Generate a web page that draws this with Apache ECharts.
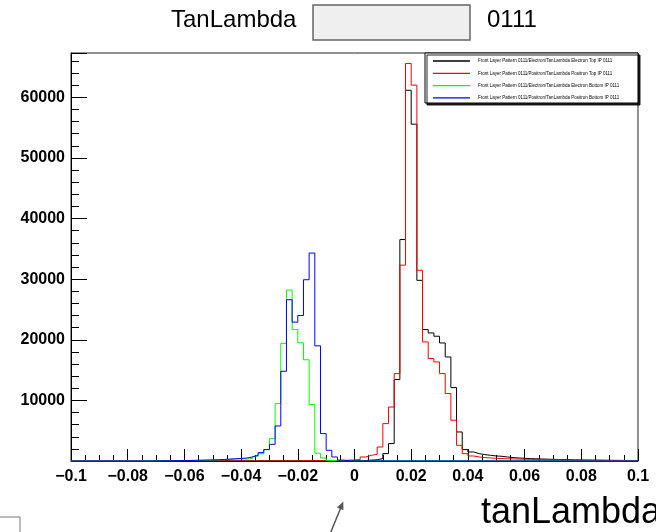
<!DOCTYPE html>
<html>
<head>
<meta charset="utf-8">
<script src="https://cdn.jsdelivr.net/npm/echarts@6/dist/echarts.min.js"></script>
<style>
html,body{margin:0;padding:0;background:#fff;}
#chart{width:656px;height:532px;}
</style>
</head>
<body>
<div id="chart"></div>
<script>
// ---- binning (100 bins from -0.1 to 0.1) ----
const binMin = -0.1;
const binWidth = 0.002;

// ---- series names ----
const seriesNames = [
  'Front Layer Pattern 0111/Electron/TanLambda Electron Top IP 0111',
  'Front Layer Pattern 0111/Positron/TanLambda Positron Top IP 0111',
  'Front Layer Pattern 0111/Electron/TanLambda Electron Bottom IP 0111',
  'Front Layer Pattern 0111/Positron/TanLambda Positron Bottom IP 0111'
];
const seriesColors = ['#000000', '#ff0000', '#00ff00', '#0000ff'];

// ---- bin contents ----
const electronTop = [
  0,0,0,0,0,0,0,0,0,0,
  0,0,0,0,0,0,0,0,0,0,
  0,0,0,0,0,0,0,0,0,0,
  0,0,0,0,0,0,0,0,0,0,
  0,0,0,0,0,0,0,0,30,40,
  50,80,150,200,400,1220,2870,13430,36530,61150,
  55560,29800,21680,21120,20580,19470,17160,12110,4790,1880,
  1490,1220,1050,940,830,775,660,560,500,445,
  400,360,330,300,270,250,230,210,190,170,
  160,150,140,130,120,110,100,95,90,85
];
const positronTop = [
  0,0,0,0,0,0,0,0,0,0,
  0,0,0,0,0,0,0,0,0,0,
  0,0,0,0,0,0,0,0,0,0,
  0,0,0,0,0,0,0,0,0,0,
  10,15,20,25,30,40,60,90,130,180,
  230,660,940,1100,2310,6170,8900,14420,32300,65570,
  62000,31460,19640,16900,16340,14420,11120,6720,2590,1220,
  830,660,560,500,445,400,370,345,320,290,
  280,260,240,220,200,185,170,155,140,130,
  120,110,100,95,90,85,80,75,70,65
];
const electronBottom = [
  0,0,0,0,0,0,0,0,0,0,
  0,0,0,0,0,30,40,50,60,70,
  90,100,120,140,170,200,240,290,350,380,
  330,400,775,1200,1880,3700,9470,19400,28200,21700,
  19500,16700,9300,1270,500,100,30,0,0,0,
  0,0,0,0,0,0,0,0,0,0,
  0,0,0,0,0,0,0,0,0,0,
  0,0,0,0,0,0,0,0,0,0,
  0,0,0,0,0,0,0,0,0,0,
  0,0,0,0,0,0,0,0,0,0
];
const positronBottom = [
  0,0,0,0,0,0,0,0,0,0,
  0,0,0,0,0,30,40,50,60,80,
  90,110,130,150,180,210,250,300,360,420,
  480,660,940,1380,1880,2750,5780,14800,26600,22900,
  24000,29900,34300,19000,4520,1770,660,150,40,10,
  0,0,0,0,0,0,0,0,0,0,
  0,0,0,0,0,0,0,0,0,0,
  0,0,0,0,0,0,0,0,0,0,
  0,0,0,0,0,0,0,0,0,0,
  0,0,0,0,0,0,0,0,0,0
];

// ---- axis ticks ----
const xMin = -0.1, xMax = 0.1, xInterval = 0.02;
const yMin = 0, yMax = 67300, yInterval = 10000;

const allValues = [electronTop, positronTop, electronBottom, positronBottom];

function toStepData(values) {
  const d = values.map((v, k) => [binMin + k * binWidth, v]);
  d.push([binMin + values.length * binWidth, values[values.length - 1]]);
  return d;
}

const FONT = '"Liberation Sans", Arial, Helvetica, sans-serif';

const chart = echarts.init(document.getElementById('chart'), null, {renderer: 'canvas'});

const option = {
  animation: false,
  backgroundColor: '#ffffff',
  grid: {
    left: 71, right: 18, top: 53, bottom: 71,
    show: true, borderColor: '#222', borderWidth: 1, backgroundColor: 'transparent'
  },
  xAxis: {
    type: 'value', min: xMin, max: xMax, interval: xInterval,
    axisLine: {show: true, onZero: false, lineStyle: {color: '#000', width: 1}},
    axisTick: {show: true, inside: true, length: 12, lineStyle: {color: '#000'}},
    minorTick: {show: true, splitNumber: 4, length: 6, lineStyle: {color: '#000'}},
    splitLine: {show: false},
    axisLabel: {
      margin: 8, color: '#000', fontSize: 16, fontWeight: 'bold', fontFamily: FONT,
      formatter: function (v) {
        const r = Math.round(v * 1000) / 1000;
        if (r === 0) return '0';
        return (r < 0 ? '\u2212' : '') + String(Math.abs(r));
      }
    }
  },
  yAxis: {
    type: 'value', min: yMin, max: yMax, interval: yInterval,
    axisLine: {show: true, onZero: false, lineStyle: {color: '#000', width: 1}},
    axisTick: {show: true, inside: true, length: 16, lineStyle: {color: '#000'}},
    minorTick: {show: true, splitNumber: 5, length: 8, lineStyle: {color: '#000'}},
    splitLine: {show: false},
    axisLabel: {
      margin: 6, color: '#000', fontSize: 16, fontWeight: 'bold', fontFamily: FONT,
      showMinLabel: false, showMaxLabel: false,
      formatter: function (v) { return String(Math.round(v)); }
    }
  },
  legend: {
    orient: 'vertical', left: 433, top: 58.5, padding: 0,
    itemWidth: 37, itemHeight: 1.3, itemGap: 7.3, icon: 'rect',
    z: 5,
    textStyle: {fontSize: 4.5, color: '#000', fontFamily: FONT, padding: [0, 0, 0, 3]},
    data: seriesNames
  },
  series: allValues.map((vals, i) => ({
    name: seriesNames[i],
    type: 'line',
    step: 'end',
    symbol: 'none',
    showSymbol: false,
    color: seriesColors[i],
    lineStyle: {color: seriesColors[i], width: 1},
    data: toStepData(vals),
    z: 2 + i * 0.01
  })),
  graphic: [
    // title
    {type: 'text', left: 171, top: 8, z: 10,
      style: {text: 'TanLambda', font: '24px ' + FONT, fill: '#000'}},
    {type: 'text', left: 487, top: 8, z: 10,
      style: {text: '0111', font: '24px ' + FONT, fill: '#000'}},
    {type: 'rect', shape: {x: 313, y: 5, width: 157, height: 35}, z: 11,
      style: {fill: '#efefef', stroke: '#666', lineWidth: 1.5}},
    // legend frame
    {type: 'rect', shape: {x: 425, y: 53, width: 213, height: 50}, z: 4,
      style: {fill: '#fff', stroke: '#000', lineWidth: 1,
        shadowColor: 'rgba(0,0,0,0.85)', shadowOffsetX: 2, shadowOffsetY: 2, shadowBlur: 0}},
    // x-axis title
    {type: 'text', left: 481, top: 495, z: 10,
      style: {text: 'tanLambda', font: '36px ' + FONT, fill: '#000'}},
    // arrow
    {type: 'line', shape: {x1: 330, y1: 534, x2: 341.5, y2: 506}, z: 10,
      style: {stroke: '#555', lineWidth: 1.5}},
    {type: 'polygon', shape: {points: [[343.3, 501.5], [343.4, 510.3], [337.0, 507.5]]}, z: 10,
      style: {fill: '#555'}},
    // bottom-left box fragment
    {type: 'rect', shape: {x: -2, y: 517, width: 22, height: 20}, z: 10,
      style: {fill: 'none', stroke: '#777', lineWidth: 1}}
  ]
};

chart.setOption(option);
</script>
</body>
</html>
